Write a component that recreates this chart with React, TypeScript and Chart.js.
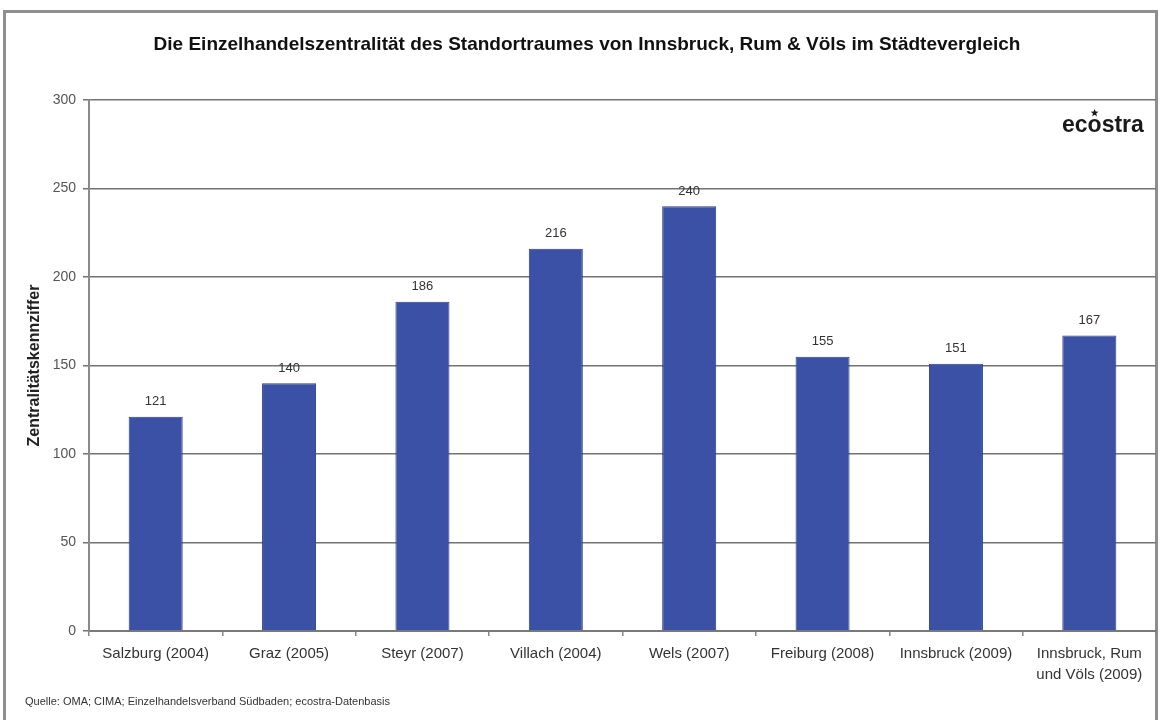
import React, { useEffect, useRef } from "react";
import { Chart, registerables } from "chart.js";

Chart.register(...registerables);

const categories: (string | string[])[] = [
  "Salzburg (2004)",
  "Graz (2005)",
  "Steyr (2007)",
  "Villach (2004)",
  "Wels (2007)",
  "Freiburg (2008)",
  "Innsbruck (2009)",
  ["Innsbruck, Rum", "und Völs (2009)"],
];
const values = [121, 140, 186, 216, 240, 155, 151, 167];
const yMin = 0;
const yMax = 300;
const yStep = 50;
const titleText =
  "Die Einzelhandelszentralität des Standortraumes von Innsbruck, Rum & Völs im Städtevergleich";
const yAxisTitle = "Zentralitätskennziffer";
const sourceText = "Quelle: OMA; CIMA; Einzelhandelsverband Südbaden; ecostra-Datenbasis";
const logoText = "ecostra";

const FONT = "'Liberation Sans', Arial, sans-serif";
const W = 1161;
const H = 720;

const decorPlugin = {
  id: "decor",
  beforeDraw(chart: any) {
    const ctx = chart.ctx;
    ctx.save();
    ctx.fillStyle = "#ffffff";
    ctx.fillRect(0, 0, chart.width, chart.height);
    ctx.strokeStyle = "#8e8e8e";
    ctx.lineWidth = 3;
    ctx.strokeRect(4.5, 11.5, 1152, 760);
    ctx.restore();
  },
  afterDatasetsDraw(chart: any) {
    const ctx = chart.ctx;
    const meta = chart.getDatasetMeta(0);
    ctx.save();
    ctx.font = `13px ${FONT}`;
    ctx.fillStyle = "#333333";
    ctx.textAlign = "center";
    ctx.textBaseline = "middle";
    meta.data.forEach((el: any, i: number) => {
      ctx.fillText(String(values[i]), el.x, el.y - 15);
    });
    ctx.restore();
  },
  afterDraw(chart: any) {
    const ctx = chart.ctx;
    ctx.save();
    // title
    ctx.font = `bold 19px ${FONT}`;
    ctx.fillStyle = "#111111";
    ctx.textAlign = "center";
    ctx.textBaseline = "middle";
    ctx.fillText(titleText, 587, 45);
    // logo
    ctx.font = `bold 23px ${FONT}`;
    ctx.textAlign = "left";
    ctx.textBaseline = "alphabetic";
    const lx = 1062;
    const ly = 132;
    ctx.fillStyle = "#1a1a1a";
    ctx.fillText(logoText, lx, ly);
    const ecW = ctx.measureText(logoText.slice(0, 2)).width;
    const oW = ctx.measureText(logoText.slice(2, 3)).width;
    const sx = lx + ecW + oW / 2;
    const sy = ly - 19;
    ctx.beginPath();
    for (let k = 0; k < 10; k++) {
      const r = k % 2 === 0 ? 4 : 1.7;
      const a = -Math.PI / 2 + (k * Math.PI) / 5;
      const px = sx + r * Math.cos(a);
      const py = sy + r * Math.sin(a);
      if (k === 0) ctx.moveTo(px, py);
      else ctx.lineTo(px, py);
    }
    ctx.closePath();
    ctx.fill();
    // source
    ctx.font = `11px ${FONT}`;
    ctx.fillStyle = "#333333";
    ctx.textBaseline = "middle";
    ctx.fillText(sourceText, 25, 702);
    ctx.restore();
  },
};

export default function App() {
  const ref = useRef<HTMLCanvasElement | null>(null);
  useEffect(() => {
    if (!ref.current) return;
    const chart = new Chart(ref.current, {
      type: "bar",
      data: {
        labels: categories as any,
        datasets: [
          {
            data: values,
            backgroundColor: "#3a51a5",
            borderColor: "#2c3f8e",
            borderWidth: 1,
            categoryPercentage: 1,
            barPercentage: 0.405,
          },
        ],
      },
      options: {
        responsive: false,
        animation: false,
        devicePixelRatio: 1,
        layout: { padding: { left: 0, top: 100, right: 5, bottom: 34 } },
        plugins: {
          legend: { display: false },
          title: { display: false },
          tooltip: { enabled: false },
        },
        scales: {
          x: {
            afterFit: (s: any) => {
              s.height = 55;
            },
            grid: {
              display: true,
              drawOnChartArea: false,
              drawTicks: true,
              tickLength: 5,
              color: "#888888",
              lineWidth: 1.5,
              offset: true,
            },
            border: { display: true, color: "#7a7a7a", width: 2 },
            ticks: {
              color: "#333333",
              font: { family: FONT, size: 15, lineHeight: 1.35 },
              padding: 8,
              maxRotation: 0,
              autoSkip: false,
            },
          },
          y: {
            min: yMin,
            max: yMax,
            afterFit: (s: any) => {
              s.width = 89;
            },
            grid: {
              color: "#737373",
              lineWidth: 1.5,
              tickLength: 6,
            },
            border: { display: true, color: "#8a8a8a", width: 2 },
            ticks: {
              stepSize: yStep,
              color: "#555555",
              font: { family: FONT, size: 14 },
              padding: 7,
            },
            title: {
              display: true,
              text: yAxisTitle,
              color: "#222222",
              font: { family: FONT, size: 16, weight: "bold" },
              padding: { top: 25, bottom: 0 },
            },
          },
        },
      },
      plugins: [decorPlugin],
    });
    return () => chart.destroy();
  }, []);
  return (
    <div style={{ position: "absolute", left: 0, top: 0, width: W, height: H, background: "#fff" }}>
      <canvas ref={ref} width={W} height={H} style={{ display: "block", width: W, height: H }} />
    </div>
  );
}
